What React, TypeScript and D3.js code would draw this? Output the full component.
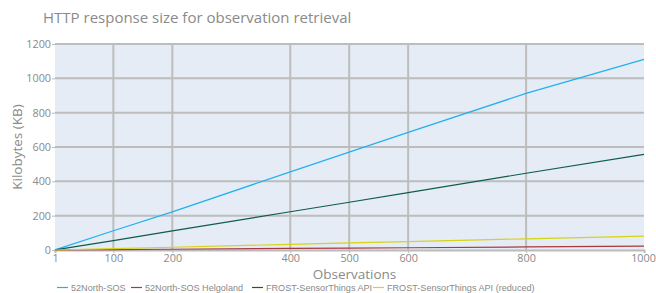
import React, { useEffect, useRef } from 'react';
import * as d3 from 'd3';

const observations = [1, 100, 200, 400, 500, 600, 800, 1000];
const sos52North = [1, 112, 222, 455, 570, 685, 912, 1110];
const sosHelgoland = [0.2, 2, 4.5, 9, 11, 13, 18, 22];
const frostSta = [0.5, 55, 111, 223, 278, 334, 447, 557];
const frostReduced = [0.1, 8, 16, 33, 41, 49, 65, 81];

const seriesNames = ['52North-SOS', '52North-SOS Helgoland', 'FROST-SensorThings API', 'FROST-SensorThings API (reduced)'];
const seriesColors = ['#1fb2ee', '#a8393e', '#0e5c49', '#d6d414'];
const xTicks = [1, 100, 200, 400, 500, 600, 800, 1000];
const yTicks = [0, 200, 400, 600, 800, 1000, 1200];

const W = 656;
const H = 293;

const App: React.FC = () => {
  const svgRef = useRef<SVGSVGElement>(null);

  useEffect(() => {
    if (!svgRef.current) return;
    const svg = d3.select(svgRef.current);
    svg.selectAll('*').remove();

    const margin = { top: 44, right: 12, bottom: 43, left: 55 };
    const innerW = W - margin.left - margin.right;
    const innerH = H - margin.top - margin.bottom;

    const x = d3.scaleLinear().domain([1, 1000]).range([0, innerW]);
    const y = d3.scaleLinear().domain([0, 1200]).range([innerH, 0]);

    const font = '"Open Sans", sans-serif';

    // Title
    svg.append('text')
      .attr('x', 43)
      .attr('y', 23)
      .attr('fill', '#8a8a8a')
      .style('font-family', font)
      .style('font-size', '15px')
      .text('HTTP response size for observation retrieval');

    const g = svg.append('g').attr('transform', `translate(${margin.left},${margin.top})`);

    g.append('rect')
      .attr('width', innerW)
      .attr('height', innerH)
      .attr('fill', '#e5ecf6');

    // Grid
    g.append('g')
      .selectAll('line')
      .data(xTicks.slice(1, -1))
      .enter()
      .append('line')
      .attr('x1', d => x(d))
      .attr('x2', d => x(d))
      .attr('y1', 0)
      .attr('y2', innerH)
      .attr('stroke', '#bdbdbd')
      .attr('stroke-width', 2);

    g.append('g')
      .selectAll('line')
      .data(yTicks.slice(1))
      .enter()
      .append('line')
      .attr('x1', 0)
      .attr('x2', innerW)
      .attr('y1', d => y(d))
      .attr('y2', d => y(d))
      .attr('stroke', '#bdbdbd')
      .attr('stroke-width', 2);

    // Axes
    const yAxis = g.append('g')
      .call(d3.axisLeft(y).tickValues(yTicks).tickSize(3).tickPadding(1).tickFormat(d3.format('d')));
    yAxis.select('.domain').remove();
    yAxis.selectAll('line').attr('stroke', '#bbb');
    yAxis.selectAll('text')
      .attr('fill', '#8a8a8a')
      .style('font-family', font)
      .style('font-size', '10.8px');

    const xAxis = g.append('g')
      .attr('transform', `translate(0,${innerH})`)
      .call(d3.axisBottom(x).tickValues(xTicks).tickSize(3).tickPadding(1).tickFormat(d3.format('d')));
    xAxis.select('.domain').attr('stroke', '#bbb').attr('stroke-width', 2);
    xAxis.selectAll('line').attr('stroke', '#bbb');
    xAxis.selectAll('text')
      .attr('fill', '#8a8a8a')
      .style('font-family', font)
      .style('font-size', '10.8px');
    xAxis.selectAll<SVGTextElement, number>('text')
      .filter(d => d === 1000)
      .attr('dx', -1);

    // Axis titles
    svg.append('text')
      .attr('transform', `translate(22,${margin.top + innerH / 2}) rotate(-90)`)
      .attr('text-anchor', 'middle')
      .attr('fill', '#8a8a8a')
      .style('font-family', font)
      .style('font-size', '13.5px')
      .text('Kilobytes (KB)');

    svg.append('text')
      .attr('x', margin.left + innerW / 2 + 5)
      .attr('y', 278.5)
      .attr('text-anchor', 'middle')
      .attr('fill', '#8a8a8a')
      .style('font-family', font)
      .style('font-size', '13.5px')
      .text('Observations');

    // Lines
    const allSeries = [sos52North, sosHelgoland, frostSta, frostReduced];
    const line = d3.line<number>()
      .x((_, i) => x(observations[i]))
      .y(d => y(d));

    g.append('g')
      .selectAll('path')
      .data(allSeries)
      .enter()
      .append('path')
      .attr('d', d => line(d))
      .attr('fill', 'none')
      .attr('stroke', (_, i) => seriesColors[i])
      .attr('stroke-width', 1.2);

    // Legend
    const legendX = [57, 131, 252, 373];
    const leg = svg.append('g').attr('transform', 'translate(0,287.5)');
    seriesNames.forEach((name, i) => {
      leg.append('line')
        .attr('x1', legendX[i])
        .attr('x2', legendX[i] + 11)
        .attr('y1', 0)
        .attr('y2', 0)
        .attr('stroke', seriesColors[i])
        .attr('stroke-width', 1.2);
      leg.append('text')
        .attr('x', legendX[i] + 14)
        .attr('y', 3.3)
        .attr('fill', '#8a8a8a')
        .style('font-family', '"Liberation Sans", Arial, sans-serif')
        .style('font-size', '9.1px')
        .text(name);
    });
  }, []);

  return <svg ref={svgRef} width={W} height={H} style={{ position: 'absolute', left: 0, top: 0 }} />;
};

export default App;
